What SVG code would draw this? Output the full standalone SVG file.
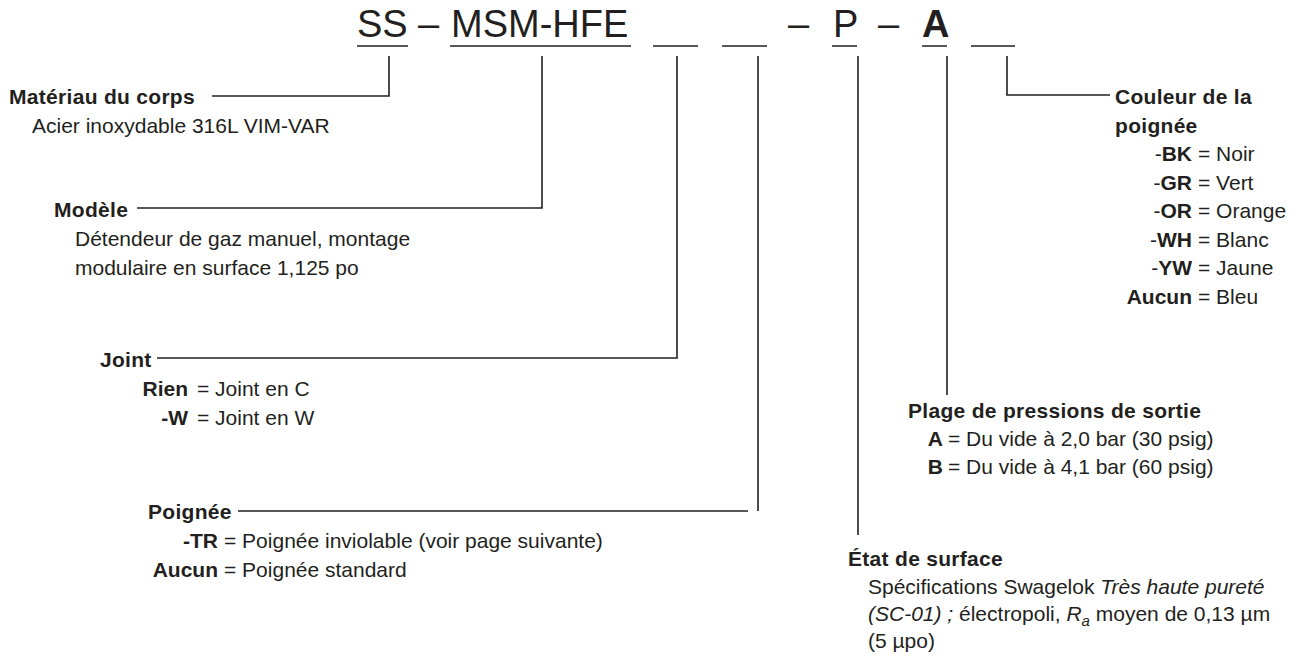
<svg xmlns="http://www.w3.org/2000/svg" width="1300" height="657" viewBox="0 0 1300 657">
<style>
text{font-family:"Liberation Sans",Arial,Helvetica,sans-serif;fill:#231f20}
.h{font-size:38px}
.hb{font-size:38px;font-weight:bold}
.t{font-size:21px}
.ti{font-size:21px;font-weight:bold;letter-spacing:0.3px}
.c{font-size:21px;font-weight:bold;text-anchor:end}
.b{font-weight:bold}
.i{font-style:italic}
.ln{stroke:#231f20;stroke-width:1.6;fill:none}
</style>
<rect width="1300" height="657" fill="#ffffff"/>

<g id="code">
  <text class="h" x="357" y="37">SS</text>
  <text class="h" x="418" y="37">–</text>
  <text class="h" x="451" y="37">MSM-HFE</text>
  <text class="h" x="788" y="37">–</text>
  <text class="h" x="833" y="37">P</text>
  <text class="h" x="878" y="37">–</text>
  <text class="hb" x="922" y="37">A</text>
  <path class="ln" d="M357 46H408M450 46H631M653 46H698M722 46H767M832 46H857M922 46H947M971 46H1015"/>
</g>

<g id="connectors">
  <path class="ln" d="M389 56V96H212"/>
  <path class="ln" d="M542 56V208H137"/>
  <path class="ln" d="M677 56V358H157"/>
  <path class="ln" d="M758 56V511"/>
  <path class="ln" d="M238 511H748"/>
  <path class="ln" d="M858 56V535"/>
  <path class="ln" d="M947 56V395"/>
  <path class="ln" d="M1007 56V95H1110"/>
</g>

<g id="materiau">
  <text class="ti" x="9" y="104">Matériau du corps</text>
  <text class="t" x="32" y="133">Acier inoxydable 316L VIM-VAR</text>
</g>

<g id="modele">
  <text class="ti" x="54" y="217">Modèle</text>
  <text class="t" x="75" y="246">Détendeur de gaz manuel, montage</text>
  <text class="t" x="75" y="275">modulaire en surface 1,125 po</text>
</g>

<g id="joint">
  <text class="ti" x="100" y="367">Joint</text>
  <text class="c" x="188" y="396">Rien</text>
  <text class="t" x="197" y="396">= Joint en C</text>
  <text class="c" x="188" y="425">-W</text>
  <text class="t" x="197" y="425">= Joint en W</text>
</g>

<g id="poignee">
  <text class="ti" x="148" y="519">Poignée</text>
  <text class="c" x="218" y="548">-TR</text>
  <text class="t" x="224" y="548">= Poignée inviolable (voir page suivante)</text>
  <text class="c" x="218" y="577">Aucun</text>
  <text class="t" x="224" y="577">= Poignée standard</text>
</g>

<g id="couleur">
  <text class="ti" x="1115" y="104">Couleur de la</text>
  <text class="ti" x="1115" y="132.5">poignée</text>
  <text class="c" x="1192" y="161"><tspan font-weight="normal">-</tspan>BK</text>
  <text class="t" x="1198" y="161">= Noir</text>
  <text class="c" x="1192" y="189.5"><tspan font-weight="normal">-</tspan>GR</text>
  <text class="t" x="1198" y="189.5">= Vert</text>
  <text class="c" x="1192" y="218"><tspan font-weight="normal">-</tspan>OR</text>
  <text class="t" x="1198" y="218">= Orange</text>
  <text class="c" x="1192" y="246.5"><tspan font-weight="normal">-</tspan>WH</text>
  <text class="t" x="1198" y="246.5">= Blanc</text>
  <text class="c" x="1192" y="275"><tspan font-weight="normal">-</tspan>YW</text>
  <text class="t" x="1198" y="275">= Jaune</text>
  <text class="c" x="1192" y="303.5">Aucun</text>
  <text class="t" x="1198" y="303.5">= Bleu</text>
</g>

<g id="plage">
  <text class="ti" x="908" y="418">Plage de pressions de sortie</text>
  <text class="c" x="943" y="446">A</text>
  <text class="t" x="948" y="446">= Du vide à 2,0 bar (30 psig)</text>
  <text class="c" x="943" y="474">B</text>
  <text class="t" x="948" y="474">= Du vide à 4,1 bar (60 psig)</text>
</g>

<g id="etat">
  <text class="ti" x="848" y="566">État de surface</text>
  <text class="t" x="868" y="594">Spécifications Swagelok <tspan class="i">Très haute pureté</tspan></text>
  <text class="t" x="868" y="621"><tspan class="i">(SC-01) ;</tspan> électropoli, <tspan class="i">R</tspan><tspan class="i" font-size="15" dy="5">a</tspan><tspan dy="-5"> moyen de 0,13 µm</tspan></text>
  <text class="t" x="868" y="648">(5 µpo)</text>
</g>
</svg>
